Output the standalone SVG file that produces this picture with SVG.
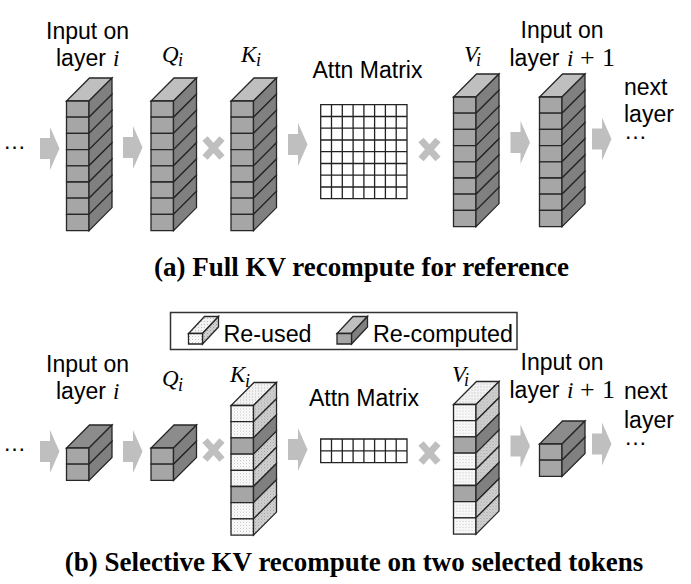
<svg xmlns="http://www.w3.org/2000/svg" width="691" height="584" viewBox="0 0 691 584">
<style>
.t{font-family:"Liberation Sans",Arial,sans-serif;font-size:23px;fill:#000}
.l{font-size:23.3px}
.m{font-family:"Liberation Serif","Times New Roman",serif;font-style:italic;font-size:23px;fill:#000}
.s{font-family:"Liberation Serif","Times New Roman",serif;font-style:italic;font-size:18px;fill:#000}
.n{font-family:"Liberation Serif","Times New Roman",serif;font-size:26px;fill:#000}
.c{font-family:"Liberation Serif","Times New Roman",serif;font-weight:bold;font-size:27px;fill:#000;text-anchor:middle}
.b{stroke:#262626;stroke-width:1.3;stroke-linejoin:miter}
.grid{fill:none;stroke:#222;stroke-width:1.3}
.arrow{fill:#bfbfbf}
.x{fill:none;stroke:#bfbfbf;stroke-width:7}
</style>
<defs>
<pattern id="dot1" width="3" height="3" patternUnits="userSpaceOnUse"><rect width="3" height="3" fill="#fff"/><rect width="1" height="1" fill="#bdbdbd"/><rect x="1.5" y="1.5" width="1" height="1" fill="#cfcfcf"/></pattern>
<pattern id="dot2" width="3" height="3" patternUnits="userSpaceOnUse"><rect width="3" height="3" fill="#d4d4d4"/><rect width="1" height="1" fill="#9a9a9a"/><rect x="1.5" y="1.5" width="1" height="1" fill="#aaa"/></pattern>
<pattern id="dot3" width="3" height="3" patternUnits="userSpaceOnUse"><rect width="3" height="3" fill="#f2f2f2"/><rect width="1" height="1" fill="#bbb"/></pattern>
<g id="cc"><path class="b" fill="#a6a6a6" d="M0 0H22.5V16.2H0Z"/><path class="b" fill="#808080" d="M22.5 0L45.5 -23V-6.8L22.5 16.2Z"/></g>
<g id="cr"><path class="b" fill="url(#dot1)" d="M0 0H22.5V16.2H0Z"/><path class="b" fill="url(#dot2)" d="M22.5 0L45.5 -23V-6.8L22.5 16.2Z"/></g>
<path id="tc" class="b" fill="#bfbfbf" d="M0 0H22.5L45.5 -23H23Z"/>
<path id="tc2" class="b" fill="#8c8c8c" d="M0 0H22.5L45.5 -23H23Z"/>
<path id="tr" class="b" fill="url(#dot3)" d="M0 0H22.5L45.5 -23H23Z"/>
<g id="tall"><use href="#tc"/><use href="#cc"/><use href="#cc" y="16.2"/><use href="#cc" y="32.4"/><use href="#cc" y="48.6"/><use href="#cc" y="64.8"/><use href="#cc" y="81"/><use href="#cc" y="97.2"/><use href="#cc" y="113.4"/></g>
<g id="mixed"><use href="#tr"/><use href="#cr"/><use href="#cr" y="16.2"/><use href="#cc" y="32.4"/><use href="#cr" y="48.6"/><use href="#cr" y="64.8"/><use href="#cc" y="81"/><use href="#cr" y="97.2"/><use href="#cr" y="113.4"/></g>
<g id="short"><use href="#tc2"/><use href="#cc"/><use href="#cc" y="16.2"/></g>
<path id="ar" class="arrow" d="M0 11H10V0L19.5 21.5L10 43V32H0Z"/>
<path id="mul" class="x" d="M-8.5 -9.5L8.5 9.5M8.5 -9.5L-8.5 9.5"/>
</defs>

<g id="connectors">
<use href="#ar" x="40" y="127"/><use href="#ar" x="123" y="126"/><use href="#ar" x="288" y="123"/><use href="#ar" x="510.5" y="121"/><use href="#ar" x="592" y="117.5"/>
<use href="#mul" x="213.5" y="148"/><use href="#mul" x="429.5" y="149.5"/>
<use href="#ar" x="40" y="430"/><use href="#ar" x="123" y="430"/><use href="#ar" x="288" y="428"/><use href="#ar" x="510.5" y="424.5"/><use href="#ar" x="592" y="422.5"/>
<use href="#mul" x="213.5" y="450"/><use href="#mul" x="429.5" y="453"/>
</g>

<g id="a-input"><text class="t" x="46" y="39">Input on</text><text class="t" x="56" y="66">layer</text><text class="m" x="113" y="66">i</text><use href="#tall" x="66.5" y="101"/></g>
<g id="a-q"><text class="m" x="162" y="61.5">Q</text><text class="s" x="178" y="66">i</text><use href="#tall" x="151" y="101"/></g>
<g id="a-k"><text class="m" x="241" y="61.5">K</text><text class="s" x="256" y="66">i</text><use href="#tall" x="231" y="101"/></g>
<g id="a-matrix"><text class="t" x="312.5" y="77.5">Attn Matrix</text>
<path class="grid" d="M320.7 104.7H407V198.7H320.7ZM331.5 104.7V198.7M342.3 104.7V198.7M353.1 104.7V198.7M363.9 104.7V198.7M374.6 104.7V198.7M385.4 104.7V198.7M396.2 104.7V198.7M320.7 116.5H407M320.7 128.2H407M320.7 140H407M320.7 151.7H407M320.7 163.5H407M320.7 175.2H407M320.7 187H407"/></g>
<g id="a-v"><text class="m" x="464" y="61.5">V</text><text class="s" x="476" y="66">i</text><use href="#tall" x="453.5" y="97"/></g>
<g id="a-output"><text class="t" x="520.5" y="38">Input on</text><text class="t" x="509.5" y="65.5">layer</text><text class="m" x="567" y="65.5">i</text><text class="n" x="580" y="65.5">+</text><text class="n" x="602" y="65.5">1</text><use href="#tall" x="539.5" y="97"/></g>
<g id="a-next"><text class="t" x="624" y="95">next</text><text class="t" x="624" y="122">layer</text><text class="t" x="624" y="139">…</text></g>
<g id="a-start"><text class="t" x="3" y="149">…</text></g>
<text class="c" x="361.5" y="276">(a) Full KV recompute for reference</text>

<g id="legend"><rect x="170.5" y="312.5" width="346.5" height="37" fill="#fff" stroke="#333" stroke-width="1.5"/>
<g id="legend-reused"><path class="b" fill="url(#dot3)" d="M188.5 333.5H202.5L218.5 316.5H204.5Z"/><path class="b" fill="url(#dot2)" d="M202.5 333.5L218.5 316.5V327L202.5 344Z"/><path class="b" fill="url(#dot1)" d="M188.5 333.5H202.5V344H188.5Z"/><text class="t l" x="223.5" y="341.5">Re-used</text></g>
<g id="legend-recomputed"><path class="b" fill="#bfbfbf" d="M337 333.5H351.5L367.5 316.5H353Z"/><path class="b" fill="#808080" d="M351.5 333.5L367.5 316.5V327L351.5 344Z"/><path class="b" fill="#a6a6a6" d="M337 333.5H351.5V344H337Z"/><text class="t l" x="373" y="341.5">Re-computed</text></g></g>

<g id="b-input"><text class="t" x="46" y="371.5">Input on</text><text class="t" x="56" y="399">layer</text><text class="m" x="113" y="399">i</text><use href="#short" x="66.5" y="448"/></g>
<g id="b-q"><text class="m" x="162" y="386">Q</text><text class="s" x="178" y="390.5">i</text><use href="#short" x="151" y="448"/></g>
<g id="b-k"><use href="#mixed" x="231" y="405.5"/><text class="m" x="230" y="382">K</text><text class="s" x="245" y="386.5">i</text></g>
<g id="b-matrix"><text class="t" x="309" y="406">Attn Matrix</text>
<path class="grid" d="M320.7 439H407V462.7H320.7ZM331.5 439V462.7M342.3 439V462.7M353.1 439V462.7M363.9 439V462.7M374.6 439V462.7M385.4 439V462.7M396.2 439V462.7M320.7 450.8H407"/></g>
<g id="b-v"><use href="#mixed" x="453.5" y="404.5"/><text class="m" x="452" y="381.5">V</text><text class="s" x="464" y="386">i</text></g>
<g id="b-output"><text class="t" x="520.5" y="370">Input on</text><text class="t" x="509.5" y="398">layer</text><text class="m" x="567" y="398">i</text><text class="n" x="580" y="398">+</text><text class="n" x="602" y="398">1</text><use href="#short" x="539.5" y="444"/></g>
<g id="b-next"><text class="t" x="624" y="399">next</text><text class="t" x="624" y="427.5">layer</text><text class="t" x="624" y="445">…</text></g>
<g id="b-start"><text class="t" x="3" y="451">…</text></g>
<text class="c" x="354" y="571">(b) Selective KV recompute on two selected tokens</text>
</svg>
